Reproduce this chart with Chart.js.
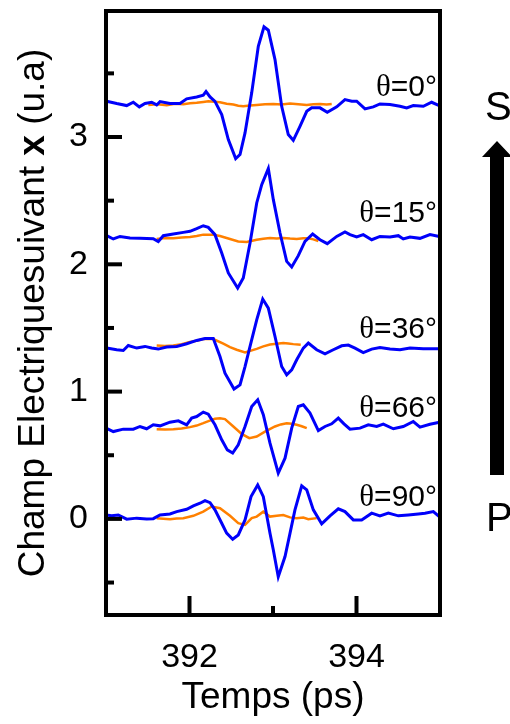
<!DOCTYPE html>
<html><head><meta charset="utf-8">
<script src="https://cdn.jsdelivr.net/npm/chart.js@4.4.1/dist/chart.umd.min.js"></script>
<style>html,body{margin:0;padding:0;background:#fff;}#wrap{width:510px;height:724px;}</style>
</head><body><div id="wrap"><canvas id="c" width="510" height="724"></canvas></div>
<script>
// ---- axis / tick definitions ----
const xTicks = [392, 394];
const xMinorTicks = [393];
const yTicks = [0, 1, 2, 3];
const yMinorTicks = [-0.5, 0.5, 1.5, 2.5, 3.5];
const angles = [0, 15, 36, 66, 90];
const angleLabelY = [3.32, 2.33, 1.42, 0.80, 0.10];
const xTitle = 'Temps (ps)';
const yTitleParts = ['Champ Electriquesuivant ', 'x', ' (u.a)'];
const sideTop = 'S';
const sideBottom = 'P';

// ---- θ = 0° ----
const tBlue0 = [391.008,391.128,391.248,391.327,391.399,391.467,391.547,391.607,391.647,391.766,391.886,391.966,392.086,392.165,392.198,392.246,392.305,392.386,392.465,392.553,392.605,392.665,392.745,392.824,392.892,392.944,393.024,393.104,393.183,393.243,393.323,393.404,393.463,393.563,393.650,393.763,393.862,393.943,394.002,394.102,394.201,394.281,394.401,394.521,394.601,394.680,394.800,394.900,394.991];
const eBlue0 = [3.281,3.263,3.247,3.273,3.237,3.263,3.273,3.252,3.278,3.263,3.263,3.300,3.315,3.328,3.357,3.315,3.280,3.176,2.980,2.830,2.862,3.032,3.347,3.713,3.866,3.839,3.608,3.241,3.019,2.974,3.084,3.202,3.229,3.229,3.194,3.237,3.294,3.281,3.281,3.221,3.237,3.260,3.255,3.241,3.229,3.247,3.241,3.273,3.247];
const tOrange0 = [391.507,391.617,391.727,391.826,391.926,392.006,392.086,392.165,392.225,392.295,392.365,392.445,392.525,392.584,392.644,392.725,392.805,392.904,393.004,393.104,393.204,393.304,393.404,393.483,393.563,393.643,393.703];
const eOrange0 = [3.252,3.258,3.250,3.262,3.258,3.266,3.270,3.276,3.281,3.278,3.273,3.262,3.255,3.246,3.241,3.247,3.252,3.258,3.260,3.256,3.263,3.258,3.252,3.258,3.260,3.256,3.260];

// ---- θ = 15° ----
const tBlue15 = [391.008,391.087,391.168,391.287,391.407,391.566,391.626,391.686,391.806,391.926,392.006,392.086,392.165,392.225,392.305,392.386,392.465,392.577,392.644,392.725,392.805,392.865,392.944,393.004,393.084,393.164,393.224,393.303,393.383,393.475,393.563,393.650,393.763,393.862,393.922,394.002,394.081,394.182,394.281,394.401,394.501,394.560,394.641,394.760,394.880,394.991];
const eBlue15 = [2.225,2.199,2.219,2.207,2.204,2.201,2.178,2.225,2.238,2.251,2.259,2.280,2.303,2.290,2.233,2.089,1.932,1.814,1.892,2.167,2.482,2.626,2.752,2.508,2.246,2.023,1.979,2.068,2.180,2.238,2.193,2.162,2.219,2.254,2.233,2.215,2.233,2.193,2.219,2.215,2.225,2.199,2.215,2.204,2.233,2.219];
const tOrange15 = [391.607,391.706,391.806,391.906,392.006,392.086,392.165,392.285,392.365,392.445,392.584,392.685,392.805,392.884,392.964,393.044,393.123,393.204,393.284,393.363,393.423,393.483,393.543];
const eOrange15 = [2.199,2.206,2.204,2.210,2.215,2.222,2.233,2.233,2.222,2.207,2.180,2.175,2.193,2.200,2.207,2.203,2.207,2.202,2.199,2.204,2.204,2.196,2.183];

// ---- θ = 36° ----
const tBlue36 = [391.008,391.128,391.207,391.267,391.368,391.467,391.547,391.626,391.727,391.847,391.966,392.086,392.186,392.285,392.365,392.425,392.533,392.605,392.665,392.725,392.805,392.877,392.944,393.024,393.104,393.164,393.224,393.284,393.363,393.423,393.523,393.623,393.722,393.823,393.902,393.982,394.081,394.182,394.281,394.401,394.521,394.641,394.800,394.991];
const eBlue36 = [1.342,1.329,1.323,1.362,1.342,1.355,1.342,1.334,1.350,1.355,1.376,1.402,1.417,1.417,1.276,1.145,1.020,1.053,1.197,1.355,1.564,1.727,1.656,1.433,1.197,1.132,1.171,1.250,1.342,1.381,1.329,1.297,1.329,1.360,1.366,1.342,1.307,1.334,1.347,1.334,1.329,1.342,1.336,1.336];
const tOrange36 = [391.607,391.706,391.806,391.906,392.006,392.086,392.165,392.285,392.405,392.485,392.565,392.665,392.805,392.884,392.964,393.044,393.123,393.183,393.243,393.332];
const eOrange36 = [1.362,1.358,1.362,1.372,1.389,1.400,1.413,1.413,1.376,1.350,1.329,1.307,1.336,1.355,1.370,1.376,1.381,1.378,1.373,1.368];

// ---- θ = 66° ----
const tBlue66 = [391.000,391.087,391.207,391.327,391.407,391.487,391.566,391.647,391.766,391.866,391.966,392.026,392.086,392.165,392.225,392.305,392.386,392.453,392.517,392.584,392.665,392.745,392.817,392.884,392.964,393.063,393.144,393.224,393.303,393.363,393.443,393.543,393.623,393.703,393.782,393.850,393.922,394.042,394.141,394.242,394.321,394.441,394.560,394.680,394.760,394.880,394.980];
const eBlue66 = [0.713,0.686,0.705,0.705,0.726,0.708,0.739,0.731,0.760,0.770,0.739,0.792,0.804,0.839,0.823,0.739,0.621,0.542,0.517,0.582,0.726,0.883,0.936,0.818,0.595,0.359,0.477,0.713,0.883,0.896,0.831,0.694,0.726,0.747,0.792,0.747,0.705,0.713,0.739,0.726,0.744,0.708,0.726,0.765,0.721,0.744,0.757];
const tOrange66 = [391.607,391.706,391.806,391.906,392.006,392.086,392.165,392.235,392.305,392.365,392.425,392.525,392.625,392.716,392.805,392.904,393.024,393.094,393.164,393.224,393.284,393.344,393.404];
const eOrange66 = [0.705,0.702,0.705,0.710,0.721,0.733,0.752,0.770,0.786,0.790,0.784,0.726,0.668,0.634,0.647,0.686,0.726,0.742,0.752,0.748,0.739,0.728,0.713];

// ---- θ = 90° ----
const tBlue90 = [391.000,391.068,391.147,391.248,391.368,391.487,391.566,391.647,391.766,391.847,391.966,392.046,392.126,392.186,392.246,392.305,392.386,392.445,392.517,392.584,392.665,392.737,392.817,392.884,392.964,393.004,393.063,393.144,393.204,393.263,393.344,393.404,393.483,393.583,393.683,393.782,393.862,393.962,394.062,394.182,394.281,394.381,394.501,394.620,394.740,394.820,394.920,394.991];
const eBlue90 = [0.031,0.024,0.031,-0.002,0.006,0.000,0.002,0.031,0.039,0.057,0.076,0.102,0.123,0.144,0.128,0.071,-0.034,-0.112,-0.160,-0.126,-0.008,0.175,0.267,0.175,-0.112,-0.244,-0.454,-0.296,-0.112,0.071,0.259,0.228,0.071,-0.039,0.024,0.079,0.057,-0.008,-0.008,0.045,0.024,0.045,0.024,0.031,0.039,0.045,0.057,0.018];
const tOrange90 = [391.607,391.686,391.766,391.846,391.926,392.046,392.165,392.266,392.365,392.485,392.584,392.665,392.745,392.805,392.884,392.964,393.044,393.123,393.204,393.284,393.363,393.423,393.523];
const eOrange90 = [0.006,0.002,-0.002,0.004,0.006,0.024,0.057,0.097,0.084,0.024,-0.034,-0.047,0.006,0.018,0.057,0.018,0.024,0.031,0.012,0.006,0.010,-0.002,0.006];

const blueSeries = [[tBlue0,eBlue0],[tBlue15,eBlue15],[tBlue36,eBlue36],[tBlue66,eBlue66],[tBlue90,eBlue90]];
const orangeSeries = [[tOrange0,eOrange0],[tOrange15,eOrange15],[tOrange36,eOrange36],[tOrange66,eOrange66],[tOrange90,eOrange90]];

const BLUE = 'rgb(0,0,250)';
const ORANGE = 'rgb(255,128,0)';
const SANS = '"Liberation Sans", Arial, Helvetica, sans-serif';
const SERIF = '"Liberation Serif", "Times New Roman", serif';

function pts(t, e) { return t.map((v, i) => ({x: v, y: e[i]})); }

const datasets = [];
blueSeries.forEach((s, i) => datasets.push({
  label: 'θ=' + angles[i] + '° s', data: pts(s[0], s[1]), borderColor: BLUE,
  borderWidth: 3, pointRadius: 0, tension: 0, order: 0, fill: false
}));
orangeSeries.forEach((s, i) => datasets.push({
  label: 'θ=' + angles[i] + '° p', data: pts(s[0], s[1]), borderColor: ORANGE,
  borderWidth: 2.5, pointRadius: 0, tension: 0, order: 1, fill: false
}));

const decor = {
  id: 'decor',
  afterDraw(chart) {
    const ctx = chart.ctx, a = chart.chartArea;
    const xs = chart.scales.x, ys = chart.scales.y;
    ctx.save();
    // frame
    ctx.strokeStyle = '#000'; ctx.lineWidth = 4; ctx.lineCap = 'square';
    ctx.strokeRect(a.left, a.top, a.right - a.left, a.bottom - a.top);
    ctx.lineCap = 'butt';
    // inward ticks
    const tick = (x1, y1, x2, y2) => { ctx.beginPath(); ctx.moveTo(x1, y1); ctx.lineTo(x2, y2); ctx.stroke(); };
    xTicks.forEach(v => { const p = xs.getPixelForValue(v); tick(p, a.bottom, p, a.bottom - 19); });
    xMinorTicks.forEach(v => { const p = xs.getPixelForValue(v); tick(p, a.bottom, p, a.bottom - 9); });
    yTicks.forEach(v => { const p = ys.getPixelForValue(v); tick(a.left, p, a.left + 16, p); });
    yMinorTicks.forEach(v => { const p = ys.getPixelForValue(v); tick(a.left, p, a.left + 8, p); });
    // angle labels
    ctx.fillStyle = '#000'; ctx.textBaseline = 'alphabetic';
    const rx = a.right - 3;
    angles.forEach((ang, i) => {
      const y = ys.getPixelForValue(angleLabelY[i]);
      const rest = '=' + ang + '°';
      ctx.font = '30px ' + SANS; const wr = ctx.measureText(rest).width;
      ctx.font = '31px ' + SERIF; const wt = ctx.measureText('θ').width;
      ctx.textAlign = 'left';
      ctx.fillText('θ', rx - wr - wt, y);
      ctx.font = '30px ' + SANS; ctx.fillText(rest, rx - wr, y);
    });
    // x title
    ctx.font = '37px ' + SANS; ctx.textAlign = 'center';
    ctx.fillText(xTitle, (a.left + a.right) / 2, 708);
    // y title (rotated, mixed bold)
    ctx.save();
    ctx.translate(44, (a.top + a.bottom) / 2);
    ctx.rotate(-Math.PI / 2);
    const fonts = ['37px ' + SANS, 'bold 37px ' + SANS, '37px ' + SANS];
    let total = 0; const ws = [];
    yTitleParts.forEach((s, i) => { ctx.font = fonts[i]; const w = ctx.measureText(s).width; ws.push(w); total += w; });
    let x0 = -total / 2; ctx.textAlign = 'left';
    yTitleParts.forEach((s, i) => { ctx.font = fonts[i]; ctx.fillText(s, x0, 0); x0 += ws[i]; });
    ctx.restore();
    // S / P arrow
    ctx.font = '40px ' + SANS; ctx.textAlign = 'left';
    ctx.fillText(sideTop, 485, 120);
    ctx.fillText(sideBottom, 486, 531);
    ctx.beginPath();
    ctx.moveTo(497, 141); ctx.lineTo(512, 157); ctx.lineTo(504, 157); ctx.lineTo(504, 475);
    ctx.lineTo(490, 475); ctx.lineTo(490, 157); ctx.lineTo(482, 157); ctx.closePath();
    ctx.fill();
    ctx.restore();
  }
};

new Chart(document.getElementById('c'), {
  type: 'line',
  data: { datasets },
  options: {
    responsive: false, animation: false, devicePixelRatio: 1,
    layout: { padding: { left: 0, right: 70, top: 11, bottom: 0 } },
    plugins: { legend: { display: false }, tooltip: { enabled: false } },
    scales: {
      x: {
        type: 'linear', min: 391, max: 395,
        afterBuildTicks: s => { s.ticks = xTicks.map(v => ({value: v})); },
        afterFit: s => { s.height = 109; s.paddingLeft = 0; s.paddingRight = 0; },
        grid: { display: false, drawTicks: false }, border: { display: false },
        ticks: { color: '#000', font: { size: 34, family: SANS }, padding: 22, maxRotation: 0, autoSkip: false,
                 callback: v => String(v) }
      },
      y: {
        type: 'linear', min: -0.755, max: 3.99,
        afterBuildTicks: s => { s.ticks = yTicks.map(v => ({value: v})); },
        afterFit: s => { s.width = 106; s.paddingTop = 0; s.paddingBottom = 0; },
        grid: { display: false, drawTicks: false }, border: { display: false },
        ticks: { color: '#000', font: { size: 34, family: SANS }, padding: 18, autoSkip: false,
                 callback: v => String(v) }
      }
    }
  },
  plugins: [decor]
});
</script></body></html>
